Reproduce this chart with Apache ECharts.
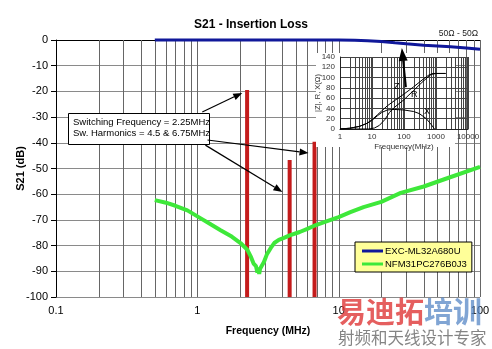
<!DOCTYPE html>
<html><head><meta charset="utf-8">
<script src="https://cdn.jsdelivr.net/npm/echarts@6/dist/echarts.min.js"></script>
<style>html,body{margin:0;padding:0;background:#fff}#c{width:492px;height:349px}</style>
</head><body><div id="c"></div>
<script>
const FONT = 'Liberation Sans, Arial, sans-serif';

// ---- main chart data ----
const xMin = 0.1, xMax = 100;
const yMin = -100, yMax = 0, yStep = 10;
const mainGridFreq = [0.2,0.3,0.4,0.5,0.6,0.7,0.8,0.9,1,2,3,4,5,6,7,8,9,10,20,30,40,50,60,70,80,90,100];

const blueName = 'EXC-ML32A680U';
const blueFreq = [0.5, 1, 2, 5, 10, 13, 16, 20, 25, 30, 40, 50, 62, 80, 100];
const blueDb   = [0, 0, 0, 0, 0, -0.1, -0.3, -0.6, -1.1, -1.5, -2.0, -2.3, -2.6, -3.1, -3.6];

const greenName = 'NFM31PC276B0J3';
const greenFreq = [0.5, 0.6, 0.7, 0.85, 1.05, 1.25, 1.46, 1.75, 2.02, 2.25, 2.4, 2.5, 2.6, 2.66, 2.7, 2.74, 2.78, 2.85, 2.96, 3.1, 3.3, 3.5, 3.77, 4.1, 4.5, 5.3, 6.0, 6.9, 8, 10, 12.1, 15, 20, 27.5, 40, 60, 100];
const greenDb   = [-62.3, -63.3, -64.5, -66.3, -69.3, -71.8, -74, -76.5, -79, -81.5, -84.5, -87, -88, -90.5, -88.5, -91, -89, -88.5, -86.4, -83.5, -81, -79, -77.8, -77, -76, -74.7, -73.5, -72, -70.8, -68.9, -67, -65, -63, -59.5, -57, -53.6, -49.4];

const harmonicFreq = [2.25, 4.5, 6.75];
const harmonicDb   = [-19.5, -46.7, -39.6];

// arrows (data coordinates of main chart): from -> to
const arrowFrom = [[1.084, -28.0], [1.18, -38.9], [1.14, -40.9], [29.9, -18.3]];
const arrowTo   = [[2.08, -20.6], [6.12, -44.0], [4.0, -59.1], [28.0, -3.1]];

// ---- inset data ----
const insetXMin = 1, insetXMax = 10000;
const insetYMin = 0, insetYMax = 140, insetYStep = 20;
const insetGridFreq = [2,3,4,5,6,7,8,9,10,20,30,40,50,60,70,80,90,100,200,300,400,500,600,700,800,900,1000,2000,3000,4000,5000,6000,7000,8000,9000,10000];
const zFreq = [1, 2, 4, 7, 10, 15, 20, 30, 50, 100, 200, 400, 600, 800, 2000];
const zVal  = [0, 1.5, 5, 11, 18, 28, 35, 45, 55, 68, 82, 97, 105, 108, 108];
const rFreq = [1, 8, 12, 17, 25, 35, 50, 100, 200, 400, 700, 1000, 2000];
const rVal  = [0, 0, 2, 7, 18, 32, 42, 57, 75, 93, 106, 108, 108];
const xFreq = [1, 2, 4, 7, 10, 15, 20, 30, 50, 100, 200, 300, 500, 700, 900];
const xVal  = [0, 1.5, 5, 11, 17, 26, 32, 37, 38, 37, 34, 30, 20, 9, 0];

const zip = (a, b) => a.map((v, i) => [v, b[i]]);
const fmtLog = v => String(+(+v).toPrecision(4));

const chart = echarts.init(document.getElementById('c'), null, {renderer: 'canvas'});

function vGrid(color, width) {
  return function (params, api) {
    const cs = params.coordSys;
    const x = Math.round(api.coord([api.value(0), api.value(1)])[0]) + 0.5;
    return {type: 'line', shape: {x1: x, y1: cs.y, x2: x, y2: cs.y + cs.height},
      style: {stroke: color, lineWidth: width}};
  };
}

const option = {
  animation: false,
  backgroundColor: '#fff',
  textStyle: {fontFamily: FONT},
  title: {
    text: 'S21 - Insertion Loss', left: 246, top: 14, textAlign: 'center',
    textStyle: {fontFamily: FONT, fontSize: 12, fontWeight: 'bold', color: '#000'}
  },
  legend: {
    data: [blueName, greenName], orient: 'vertical', left: 355, top: 242,
    backgroundColor: '#ffff99', borderColor: '#000', borderWidth: 1, borderRadius: 0,
    padding: [4, 5, 3, 7], itemGap: 3, itemWidth: 21, itemHeight: 3, icon: 'rect',
    textStyle: {fontFamily: FONT, fontSize: 9.5, color: '#000', padding: [0, 0, 0, -3]}
  },
  grid: [
    {left: 56, top: 40, right: 12, bottom: 52, containLabel: false, outerBoundsMode: 'none'},
    {left: 340, top: 57, right: 24, bottom: 220, containLabel: false, outerBoundsMode: 'none'}
  ],
  xAxis: [
    {
      type: 'log', logBase: 10, min: xMin, max: xMax, gridIndex: 0,
      name: 'Frequency (MHz)', nameLocation: 'middle', nameGap: 29, nameMoveOverlap: false,
      nameTextStyle: {fontFamily: FONT, fontSize: 10.5, fontWeight: 'bold', color: '#000'},
      axisLine: {show: true, lineStyle: {color: '#000', width: 1}},
      axisTick: {show: false},
      splitLine: {show: false},
      axisLabel: {fontFamily: FONT, fontSize: 11, color: '#000', margin: 8, formatter: fmtLog}
    },
    {
      type: 'log', logBase: 10, min: insetXMin, max: insetXMax, gridIndex: 1, z: 10,
      name: 'Frequency(MHz)', nameLocation: 'middle', nameGap: 14, nameMoveOverlap: false,
      nameTextStyle: {fontFamily: FONT, fontSize: 8, color: '#333'},
      axisLine: {show: true, lineStyle: {color: '#222', width: 1}},
      axisTick: {show: false},
      splitLine: {show: false},
      axisLabel: {fontFamily: FONT, fontSize: 8, color: '#333', margin: 4, formatter: fmtLog}
    }
  ],
  yAxis: [
    {
      type: 'value', min: yMin, max: yMax, interval: yStep, gridIndex: 0,
      name: 'S21 (dB)', nameLocation: 'middle', nameGap: 30, nameRotate: 90, nameMoveOverlap: false,
      nameTextStyle: {fontFamily: FONT, fontSize: 11, fontWeight: 'bold', color: '#000'},
      axisLine: {show: true, lineStyle: {color: '#000', width: 1}},
      axisTick: {show: true, length: 5, lineStyle: {color: '#000'}},
      splitLine: {show: true, lineStyle: {color: '#8a8a8a', width: 1}},
      axisLabel: {fontFamily: FONT, fontSize: 11, color: '#000', margin: 8}
    },
    {
      type: 'value', min: insetYMin, max: insetYMax, interval: insetYStep, gridIndex: 1, z: 10,
      name: '|Z|, R, X(Ω)', nameLocation: 'middle', nameGap: 18, nameRotate: 90, nameMoveOverlap: false,
      nameTextStyle: {fontFamily: FONT, fontSize: 7.5, color: '#333'},
      axisLine: {show: true, lineStyle: {color: '#222', width: 1}},
      axisTick: {show: false},
      splitLine: {show: true, lineStyle: {color: '#444', width: 1}},
      axisLabel: {fontFamily: FONT, fontSize: 8, color: '#333', margin: 5}
    }
  ],
  graphic: {elements: [
    {type: 'rect', z: 15, silent: true, shape: {x: 68.5, y: 113.5, width: 141, height: 31},
      style: {fill: '#fff', stroke: '#000', lineWidth: 1}},
    {type: 'text', z: 16, silent: true, x: 73, y: 117,
      style: {text: 'Switching Frequency = 2.25MHz\nSw. Harmonics = 4.5 & 6.75MHz',
        font: '9.5px ' + FONT, fill: '#000', lineHeight: 11}},
    {type: 'text', z: 16, silent: true, x: 478, y: 29,
      style: {text: '50Ω - 50Ω', font: '8.5px ' + FONT, fill: '#222', align: 'right'}},
    {type: 'text', z: 16, silent: true, x: 394, y: 82,
      style: {text: 'Z', font: '9px ' + FONT, fill: '#000'}},
    {type: 'text', z: 16, silent: true, x: 411, y: 90,
      style: {text: 'R', font: '9px ' + FONT, fill: '#000'}},
    {type: 'text', z: 16, silent: true, x: 424, y: 107,
      style: {text: 'X', font: '9px ' + FONT, fill: '#000'}},
    {type: 'text', z: 50, silent: true, x: 337, y: 297,
      style: {text: '易迪拓', font: 'bold 29px "Noto Sans CJK SC"', fill: 'rgba(222,50,50,0.78)'}},
    {type: 'text', z: 50, silent: true, x: 424, y: 297,
      style: {text: '培训', font: 'bold 29px "Noto Sans CJK SC"', fill: 'rgba(80,130,195,0.72)'}},
    {type: 'text', z: 50, silent: true, x: 338, y: 329,
      style: {text: '射频和天线设计专家', font: '16.5px "Noto Sans CJK SC"', fill: 'rgba(110,110,110,0.85)'}}
  ]},
  series: [
    {
      type: 'custom', xAxisIndex: 0, yAxisIndex: 0, z: 1, silent: true, clip: false,
      data: mainGridFreq.map(f => [f, yMin]), renderItem: vGrid('#666', 1)
    },
    {
      type: 'custom', xAxisIndex: 0, yAxisIndex: 0, z: 3, silent: true,
      data: zip(harmonicFreq, harmonicDb),
      renderItem: function (params, api) {
        const top = api.coord([api.value(0), api.value(1)]);
        const bot = api.coord([api.value(0), yMin]);
        return {type: 'rect', shape: {x: top[0] - 2, y: top[1], width: 4, height: bot[1] - top[1]},
          style: {fill: '#c41c1c'}};
      }
    },
    {
      name: greenName, type: 'line', xAxisIndex: 0, yAxisIndex: 0, z: 4,
      data: zip(greenFreq, greenDb), showSymbol: false, symbol: 'none',
      lineStyle: {color: '#3ee83a', width: 4}, itemStyle: {color: '#3ee83a'}
    },
    {
      name: blueName, type: 'line', xAxisIndex: 0, yAxisIndex: 0, z: 4,
      data: zip(blueFreq, blueDb), showSymbol: false, symbol: 'none', clip: false,
      lineStyle: {color: '#10189a', width: 3}, itemStyle: {color: '#10189a'}
    },
    {
      // white panel behind the inset (placed relative to the inset grid)
      type: 'custom', xAxisIndex: 1, yAxisIndex: 1, z: 6, silent: true, clip: false,
      data: [[insetXMin, insetYMin]],
      renderItem: function (params, api) {
        const cs = params.coordSys;
        return {type: 'rect', shape: {x: cs.x - 24, y: cs.y - 4, width: cs.width + 11, height: cs.height + 22},
          style: {fill: '#fff'}};
      }
    },
    {
      type: 'custom', xAxisIndex: 1, yAxisIndex: 1, z: 10, silent: true, clip: false,
      data: insetGridFreq.map(f => [f, insetYMin]), renderItem: vGrid('#444', 1)
    },
    {
      type: 'line', xAxisIndex: 1, yAxisIndex: 1, z: 11, data: zip(zFreq, zVal),
      showSymbol: false, symbol: 'none', lineStyle: {color: '#000', width: 1}, silent: true
    },
    {
      type: 'line', xAxisIndex: 1, yAxisIndex: 1, z: 11, data: zip(rFreq, rVal),
      showSymbol: false, symbol: 'none', lineStyle: {color: '#000', width: 1}, silent: true
    },
    {
      type: 'line', xAxisIndex: 1, yAxisIndex: 1, z: 11, data: zip(xFreq, xVal),
      showSymbol: false, symbol: 'none', lineStyle: {color: '#000', width: 1}, silent: true
    },
    {
      type: 'custom', xAxisIndex: 0, yAxisIndex: 0, z: 20, silent: true, clip: false,
      data: arrowFrom.map((p, i) => [p[0], p[1], arrowTo[i][0], arrowTo[i][1]]),
      renderItem: function (params, api) {
        const p1 = api.coord([api.value(0), api.value(1)]);
        const p2 = api.coord([api.value(2), api.value(3)]);
        const big = params.dataIndex === 3;
        const hl = big ? 13 : 9, hw = big ? 4.5 : 3.5;
        const dx = p2[0] - p1[0], dy = p2[1] - p1[1];
        const L = Math.hypot(dx, dy), ux = dx / L, uy = dy / L;
        const bx = p2[0] - ux * hl, by = p2[1] - uy * hl;
        return {type: 'group', children: [
          {type: 'line', shape: {x1: p1[0], y1: p1[1], x2: bx, y2: by},
            style: {stroke: '#000', lineWidth: big ? 2 : 1.2}},
          {type: 'polygon', shape: {points: [[p2[0], p2[1]], [bx - uy * hw, by + ux * hw], [bx + uy * hw, by - ux * hw]]},
            style: {fill: '#000'}}
        ]};
      }
    }
  ]
};
chart.setOption(option);
</script>
</body></html>
